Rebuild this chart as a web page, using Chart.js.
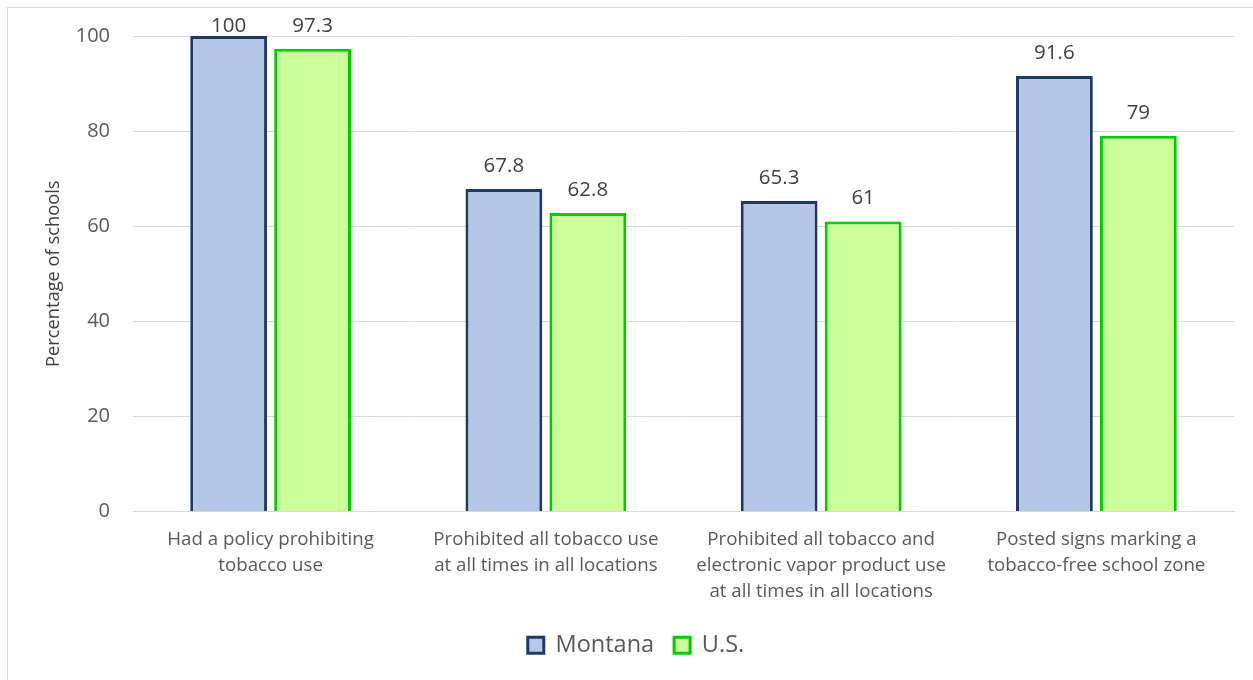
<!DOCTYPE html>
<html>
<head>
<meta charset="utf-8">
<script src="https://cdn.jsdelivr.net/npm/chart.js@4.4.1/dist/chart.umd.min.js"></script>
<style>
  body { margin: 0; background: #fff; }
  #frame {
    position: absolute; left: 7px; top: 7px;
    width: 1246px; height: 673px;
    border-left: 1px solid #d9d9d9; border-top: 1px solid #d9d9d9;
  }
  #frame canvas { display: block; }
</style>
</head>
<body>
<div id="frame"><canvas id="myChart" width="1246" height="673"></canvas></div>
<script>
var categories = [
    ['Had a policy prohibiting', 'tobacco use'],
    ['Prohibited all tobacco use', 'at all times in all locations'],
    ['Prohibited all tobacco and', 'electronic vapor product use', 'at all times in all locations'],
    ['Posted signs marking a', 'tobacco-free school zone']
];
var montana = [100, 67.8, 65.3, 91.6];
var us = [97.3, 62.8, 61, 79];
var yTicks = [0, 20, 40, 60, 80, 100];

var fontName = '"Open Sans", Lato, sans-serif';

// value labels drawn above each bar
var barLabels = {
    id: 'barLabels',
    afterDatasetsDraw: function(chart){
        var ctx = chart.ctx;
        ctx.save();
        ctx.font = '20.5px ' + fontName;
        ctx.fillStyle = '#404040';
        ctx.textAlign = 'center';
        ctx.textBaseline = 'middle';
        chart.data.datasets.forEach(function(ds, i){
            var meta = chart.getDatasetMeta(i);
            meta.data.forEach(function(bar, j){
                var y = Math.max(bar.y - 23, 18);
                ctx.fillText(String(ds.data[j]), bar.x, y);
            });
        });
        ctx.restore();
    }
};

var ctx = document.getElementById('myChart').getContext('2d');
var chart = new Chart(ctx, {
    type: 'bar',
    data: {
        labels: categories,
        datasets: [{
            label: 'Montana',
            data: montana,
            backgroundColor: '#b4c7e7',
            borderColor: '#203864',
            borderWidth: 3
        }, {
            label: 'U.S.',
            data: us,
            backgroundColor: '#ccff99',
            borderColor: '#00cc00',
            borderWidth: 3
        }]
    },
    options: {
        responsive: false,
        animation: false,
        categoryPercentage: 0.61,
        barPercentage: 0.915,
        layout: { padding: { left: 30, right: 20, top: 28, bottom: 14 } },
        plugins: {
            tooltip: { enabled: false },
            legend: {
                position: 'bottom',
                labels: {
                    font: { family: fontName, size: 23.5 },
                    color: '#595959',
                    boxWidth: 16,
                    boxHeight: 16,
                    padding: 20
                }
            }
        },
        scales: {
            x: {
                grid: { display: false },
                border: { color: '#d9d9d9', width: 1 },
                ticks: {
                    font: { family: fontName, size: 18.7, lineHeight: 1.39 },
                    color: '#595959',
                    padding: 7,
                    maxRotation: 0,
                    autoSkip: false
                },
                afterFit: function(scale){ scale.height = 102; }
            },
            y: {
                min: 0,
                max: 100,
                afterBuildTicks: function(scale){
                    scale.ticks = yTicks.map(function(v){ return { value: v }; });
                },
                grid: { color: '#d9d9d9', drawTicks: false },
                border: { display: false },
                ticks: {
                    font: { family: fontName, size: 20 },
                    color: '#595959',
                    padding: 23
                },
                title: {
                    display: true,
                    text: 'Percentage of schools',
                    font: { family: fontName, size: 18.3 },
                    color: '#404040',
                    padding: { top: 5, bottom: 0 }
                },
                afterFit: function(scale){
                    scale.width = 95;
                    scale.paddingTop = 0;
                    scale.paddingBottom = 0;
                }
            }
        }
    },
    plugins: [barLabels]
});
</script>
</body>
</html>
